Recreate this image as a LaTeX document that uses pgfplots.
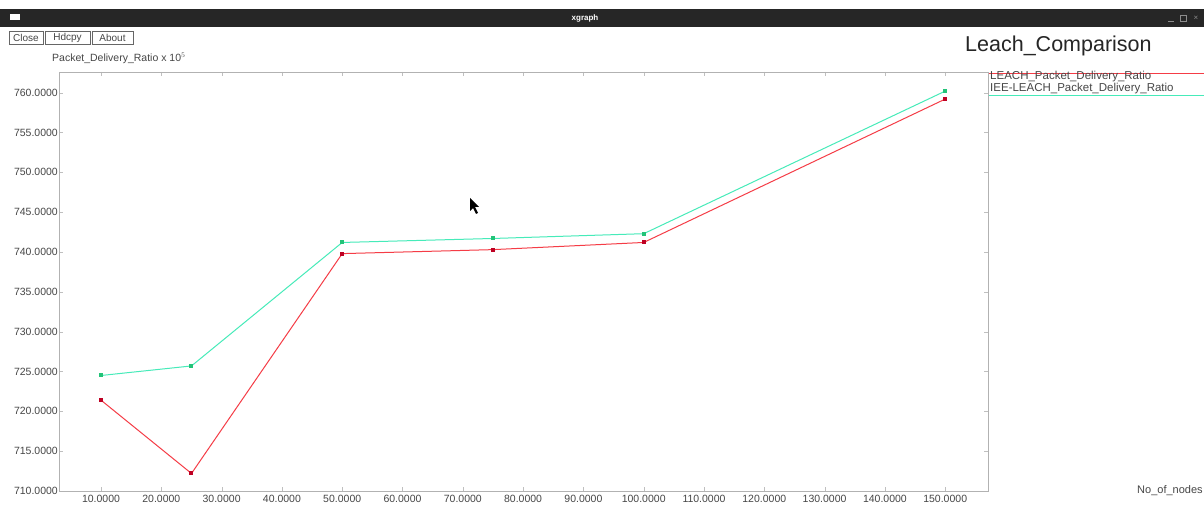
\documentclass[border=0pt]{standalone}
\usepackage{pgfplots}
\pgfplotsset{compat=1.18}
\usepackage{pgfplotstable}
\usepackage{fontspec}
\setmainfont{Liberation Sans}

\definecolor{barcol}{RGB}{38,38,38}
\definecolor{leachline}{RGB}{245,60,70}
\definecolor{leachmark}{RGB}{190,0,35}
\definecolor{ieeline}{RGB}{70,235,185}
\definecolor{ieemark}{RGB}{35,195,120}
\definecolor{txt}{RGB}{70,70,70}

% No_of_nodes  vs  Packet_Delivery_Ratio
\pgfplotstableread{
x    y
10   721.4
25   712.2
50   739.8
75   740.3
100  741.2
150  759.2
}\leach

\pgfplotstableread{
x    y
10   724.5
25   725.7
50   741.2
75   741.7
100  742.3
150  760.2
}\ieeleach

\begin{document}
\begin{tikzpicture}[x=1pt,y=1pt]
\useasboundingbox (0,0) rectangle (1204,508);
\fill[white] (0,0) rectangle (1204,508);

% legend lines, xgraph style
\fill[leachline] (988.5,433.9) rectangle (1204,435.1);
\fill[ieeline] (988.5,411.9) rectangle (1204,413.1);

% window decoration
\fill[barcol] (0,481) rectangle (1204,499);
\fill[white] (10,488) rectangle (20,494);
\node[white,font=\bfseries\fontsize{8}{9}\selectfont] at (585,490) {xgraph};
\draw[black!45] (1168,487) -- (1174,487);
\draw[black!45] (1180,487) rectangle (1186,493);
\node[black!45,font=\fontsize{8}{9}\selectfont] at (1196,490) {×};

% buttons
\draw[black!60] (9,464) rectangle (43,477);
\draw[black!60] (45,464) rectangle (90,477);
\draw[black!60] (92,464) rectangle (133,477);
\begin{scope}[every node/.style={font=\fontsize{10}{11}\selectfont,inner sep=0pt,text=txt}]
  \node at (26,470.5)   {Close};
  \node at (67.5,470.5) {Hdcpy};
  \node at (112.5,470.5) {About};
\end{scope}

\node[anchor=west,text=txt,font=\fontsize{10.5}{11}\selectfont,inner sep=0pt] at (52,450)
  {Packet\_Delivery\_Ratio x 10$^{5}$};
\node[anchor=west,text=black!85,font=\fontsize{21.5}{23}\selectfont,inner sep=0pt] at (965,462)
  {Leach\_Comparison};

\node[anchor=west,text=txt,font=\fontsize{11.5}{12}\selectfont,inner sep=0pt] at (990,431)
  {LEACH\_Packet\_Delivery\_Ratio};
\node[anchor=west,text=txt,font=\fontsize{11.5}{12}\selectfont,inner sep=0pt] at (990,419)
  {IEE-LEACH\_Packet\_Delivery\_Ratio};
\node[anchor=west,text=txt,font=\fontsize{11}{12}\selectfont,inner sep=0pt] at (1137,17)
  {No\_of\_nodes};

\begin{axis}[
  at={(59pt,17pt)}, anchor=south west,
  scale only axis, width=929pt, height=419pt,
  xmin=3.03, xmax=157.1,
  ymin=710, ymax=762.6,
  xtick={10,20,...,150},
  ytick={710,715,...,760},
  /pgf/number format/.cd, fixed, fixed zerofill, precision=4, 1000 sep={},
    assume math mode=true,
  /pgfplots/.cd,
  tick label style={text=txt,font=\fontsize{10.5}{11}\selectfont},
  yticklabel style={inner sep=1pt},
  xticklabel style={inner sep=1pt, yshift=-3pt},
  axis line style={draw=black!30},
  tick style={draw=black!25},
  major tick length=4pt,
  clip=false,
]
\addplot[color=leachline, line width=1pt, mark=square*, mark size=1.5pt,
  mark options={draw=leachmark, fill=leachmark}]
  table[x=x,y=y] {\leach};
\addplot[color=ieeline, line width=1pt, mark=square*, mark size=1.5pt,
  mark options={draw=ieemark, fill=ieemark}]
  table[x=x,y=y] {\ieeleach};
\end{axis}

% mouse pointer
\fill[black] (470,310) -- (470,297) -- (473,300) -- (476,294) -- (478,295)
  -- (475,301) -- (479,301) -- cycle;
\end{tikzpicture}
\end{document}
